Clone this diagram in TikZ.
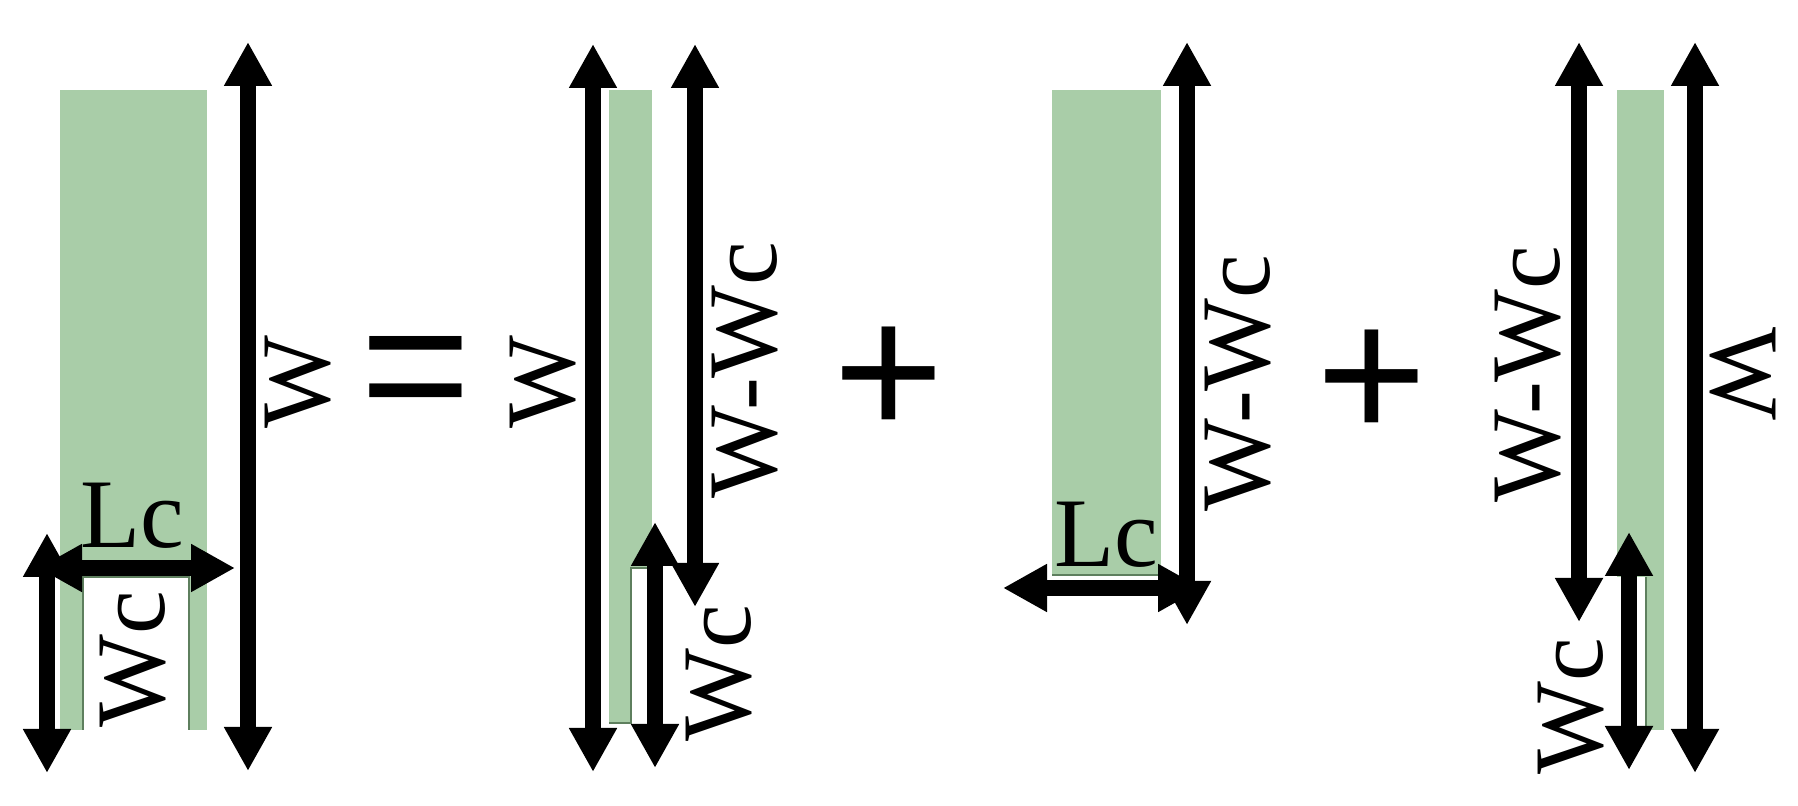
\documentclass[tikz,border=0pt]{standalone}
\usepackage{fontspec}
\setmainfont{Liberation Serif}
\newfontfamily\opfont{Liberation Sans}
\usetikzlibrary{arrows.meta}

\definecolor{leafgreen}{RGB}{169,205,168}
\definecolor{leafedge}{RGB}{94,127,94}

\tikzset{
  dimline/.style={black, line width=4.3pt, {Triangle[length=4.4mm,width=4.5mm]}-{Triangle[length=4.4mm,width=4.5mm]}},
  lbl/.style={inner sep=0pt, font=\fontsize{28pt}{32pt}\selectfont},
  opsign/.style={inner sep=0pt, font=\opfont\fontsize{54pt}{60pt}\selectfont},
  notchedge/.style={leafedge, line width=0.7pt}
}

\begin{document}
\begin{tikzpicture}[x=0.1mm, y=-0.1mm]
\useasboundingbox (0,0) rectangle (1798,806);

\fill[leafgreen] (60,90) rectangle (207,730);
\fill[white] (83,577) rectangle (189,730);
\draw[notchedge] (83,730) -- (83,577) -- (189,577) -- (189,730);

\fill[leafgreen] (609,90) rectangle (652,723);
\fill[white] (631,568) rectangle (652,723);
\draw[notchedge] (609,723) -- (631,723) -- (631,568) -- (652,568);

\fill[leafgreen] (1052,90) rectangle (1161,575);
\draw[notchedge] (1052,575) -- (1161,575);

\fill[leafgreen] (1617,90) rectangle (1664,730);
\fill[white] (1617,577) rectangle (1646,730);
\draw[notchedge] (1646,577) -- (1646,730);

\foreach \n/\x/\ya/\yb in {wone/248/42/771, wcone/47/533/773, wtwo/593/44/772, wwtwo/695/44/607, wctwo/655/522/768, wwthree/1187/42/625, wwfour/1579/42/622, wcfour/1629/532/770, wfour/1695/42/773}
{
  \coordinate (\n-t) at (\x,\ya);
  \coordinate (\n-b) at (\x,\yb);
  \draw[dimline] (\n-t) -- (\n-b);
}

\coordinate (lcone-l) at (38,568);
\coordinate (lcone-r) at (235,568);
\draw[dimline] (lcone-l) -- (lcone-r);
\coordinate (lcthree-l) at (1003,588);
\coordinate (lcthree-r) at (1202,588);
\draw[dimline] (lcthree-l) -- (lcthree-r);

\node[lbl, rotate=90] (wonelbl) at (298,382) {W};
\node[lbl] (lconelbl) at (132,516) {Lc};
\node[lbl, rotate=90] (wconelbl) at (133,659) {Wc};
\node[opsign] (eq) at (416,383) {=};

\node[lbl, rotate=90] (wtwolbl) at (543,382) {W};
\node[lbl, rotate=90] (wwtwolbl) at (745,370) {W-Wc};
\node[lbl, rotate=90] (wctwolbl) at (719,673) {Wc};
\node[opsign] (plusone) at (889,382) {+};

\node[lbl, rotate=90] (wwthreelbl) at (1238,383) {W-Wc};
\node[lbl] (lcthreelbl) at (1106,535) {Lc};
\node[opsign] (plustwo) at (1372,385) {+};

\node[lbl, rotate=90] (wwfourlbl) at (1528,374) {W-Wc};
\node[lbl, rotate=90] (wcfourlbl) at (1571,706) {Wc};
\node[lbl, rotate=-90] (wfourlbl) at (1743,374) {W};

\end{tikzpicture}
\end{document}
